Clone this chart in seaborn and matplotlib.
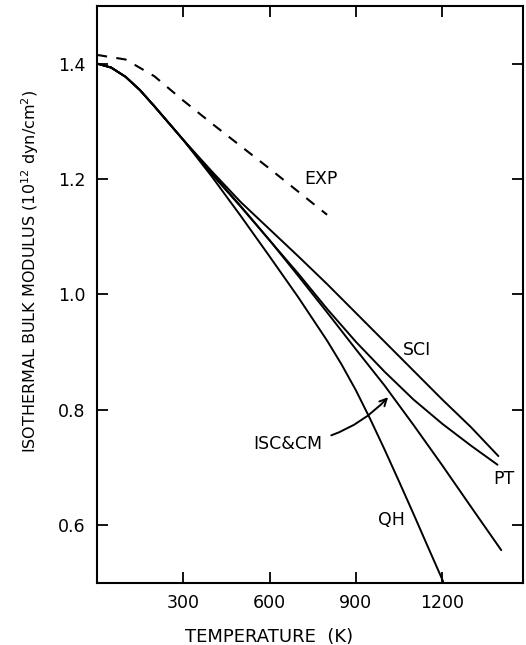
import matplotlib
matplotlib.use("Agg")
import matplotlib.pyplot as plt
import seaborn as sns
import pandas as pd

# values (temperature in K, modulus in 1e12 dyn/cm^2)
temp_exp = [0, 100, 200, 300, 400, 500, 600, 700, 800]
bulk_exp = [1.415, 1.407, 1.378, 1.336, 1.296, 1.257, 1.218, 1.178, 1.138]

temp_low = [0, 50, 100, 150, 200, 250, 300]
bulk_low = [1.400, 1.393, 1.377, 1.354, 1.326, 1.297, 1.268]

temp_sci = [400, 500, 600, 700, 800, 900, 1000, 1100, 1200, 1300, 1395]
bulk_sci = [1.213, 1.160, 1.113, 1.066, 1.018, 0.968, 0.918, 0.868, 0.818, 0.770, 0.720]

temp_pt = [400, 500, 600, 700, 800, 900, 1000, 1100, 1200, 1300, 1392]
bulk_pt = [1.208, 1.152, 1.094, 1.036, 0.975, 0.918, 0.866, 0.818, 0.776, 0.738, 0.705]

temp_isc = [400, 500, 600, 700, 800, 900, 1000, 1100, 1200, 1300, 1405]
bulk_isc = [1.210, 1.153, 1.094, 1.032, 0.969, 0.905, 0.842, 0.774, 0.704, 0.632, 0.557]

temp_qh = [400, 500, 600, 700, 800, 850, 900, 950, 1000, 1050, 1100, 1150, 1203]
bulk_qh = [1.204, 1.136, 1.066, 0.995, 0.920, 0.879, 0.834, 0.784, 0.731, 0.676, 0.620, 0.563, 0.503]

x_ticks = [300, 600, 900, 1200]
y_ticks = [0.6, 0.8, 1.0, 1.2, 1.4]

sns.set_theme(style="ticks")
plt.rcParams["font.family"] = ["DejaVu Sans"]
plt.rcParams.update({"text.color": "black", "axes.labelcolor": "black",
                     "xtick.color": "black", "ytick.color": "black"})

fig = plt.figure(figsize=(5.26, 6.45), dpi=100)
ax = fig.add_axes([0.184, 0.096, 0.81, 0.895])

def curve(t, b):
    return pd.DataFrame({"T": temp_low + t, "B": bulk_low + b})

for t, b in [(temp_sci, bulk_sci), (temp_pt, bulk_pt), (temp_isc, bulk_isc), (temp_qh, bulk_qh)]:
    sns.lineplot(data=curve(t, b), x="T", y="B", ax=ax, color="black", lw=1.4, sort=False)

df_exp = pd.DataFrame({"T": temp_exp, "B": bulk_exp})
sns.lineplot(data=df_exp, x="T", y="B", ax=ax, color="black", lw=1.5, linestyle=(0, (5, 4.5)))

ax.set_xlim(0, 1480)
ax.set_ylim(0.5, 1.5)
ax.set_xticks(x_ticks)
ax.set_yticks(y_ticks)
ax.set_yticklabels(["0.6", "0.8", "1.0", "1.2", "1.4"])
ax.tick_params(direction="in", length=8, width=1.3, top=True, right=True,
               labeltop=False, labelright=False, labelsize=12.5, pad=8)
for s in ax.spines.values():
    s.set_linewidth(1.5)
    s.set_color("black")

ax.set_xlabel("TEMPERATURE  (K)", fontsize=13)
ax.xaxis.set_label_coords(600 / 1480, -0.078)
ax.set_ylabel(r"ISOTHERMAL BULK MODULUS (10$^{12}$ dyn/cm$^{2}$)", fontsize=11.5)
ax.yaxis.set_label_coords(-0.13, 0.54)

ax.text(779, 1.20, "EXP", fontsize=12.5, ha="center", va="center")
ax.text(1113, 0.903, "SCI", fontsize=12.5, ha="center", va="center")
ax.text(1413, 0.681, "PT", fontsize=12.5, ha="center", va="center")
ax.text(1025, 0.609, "QH", fontsize=12.5, ha="center", va="center")
ax.annotate("ISC&CM", xy=(1012, 0.822), xytext=(665, 0.741), fontsize=12.5,
            ha="center", va="center",
            arrowprops=dict(arrowstyle="->", color="black", lw=1.4,
                            connectionstyle="arc3,rad=0.2", shrinkA=4, shrinkB=0))

fig.savefig("out.png", dpi=100)
